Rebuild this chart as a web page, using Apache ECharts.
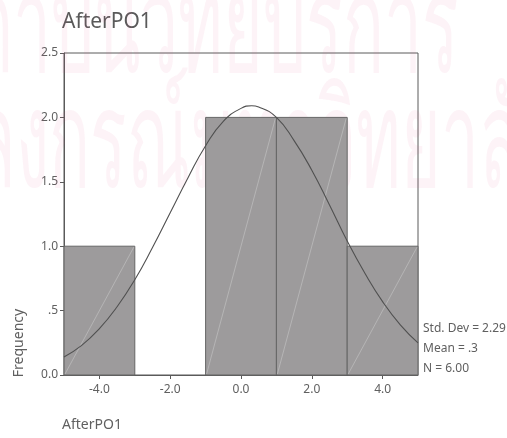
<!DOCTYPE html>
<html>
<head>
<meta charset="utf-8">
<script src="https://cdn.jsdelivr.net/npm/echarts@6/dist/echarts.min.js"></script>
<style>
html,body{margin:0;padding:0;background:#fff;}
#c{width:507px;height:438px;}
</style>
</head>
<body>
<div id="c"></div>
<script>
// Histogram bins: [lower edge, upper edge]
const binLower = [-5, -3, -1, 1, 3];
const binUpper = [-3, -1, 1, 3, 5];
const binCounts = [1, 0, 2, 2, 1];
// Fitted normal curve
const curveX = [-5, -4.5, -4, -3.5, -3, -2.5, -2, -1.5, -1, -0.5, 0, 0.3, 0.5, 1, 1.5, 2, 2.5, 3, 3.5, 4, 4.5, 5];
const curveY = [0.14, 0.23, 0.36, 0.53, 0.74, 0.99, 1.26, 1.53, 1.78, 1.97, 2.07, 2.09, 2.08, 2.0, 1.82, 1.59, 1.32, 1.04, 0.79, 0.57, 0.39, 0.25];
const xTickValues = [-4, -2, 0, 2, 4];
const yTicks = [0, 0.5, 1.0, 1.5, 2.0, 2.5];
const statsLines = ['Std. Dev = 2.29', 'Mean = .3', 'N = 6.00'];
const titleText = 'AfterPO1';
const xTitle = 'AfterPO1';
const yTitle = 'Frequency';
const watermark1 = 'สถาบันวิทยบริการ';
const watermark2 = 'จุฬาลงกรณ์มหาวิทยาลัย';

const FONT = '"Noto Sans", Tahoma, sans-serif';
const TXT = '#606060';
const WM = 'rgba(220,70,130,0.065)';

const barData = binLower.map((lo, i) => [lo, binUpper[i], binCounts[i]]).filter(d => d[2] > 0);
const curveData = curveX.map((x, i) => [x, curveY[i]]);

const chart = echarts.init(document.getElementById('c'), null, {renderer: 'canvas'});
chart.setOption({
  animation: false,
  backgroundColor: '#fff',
  grid: {left: 64, right: 89, top: 53, bottom: 63, show: true, borderColor: '#5a5a5a', borderWidth: 1, backgroundColor: 'transparent'},
  xAxis: {
    type: 'value', min: -5, max: 5,
    axisLine: {show: true, onZero: false, lineStyle: {color: '#5a5a5a'}},
    axisTick: {show: true, length: 4, customValues: xTickValues, lineStyle: {color: '#5a5a5a'}},
    axisLabel: {customValues: xTickValues, color: TXT, fontFamily: FONT, fontSize: 12, margin: 9,
      formatter: v => v.toFixed(1)},
    splitLine: {show: false}
  },
  yAxis: {
    type: 'value', min: 0, max: 2.5, interval: 0.5,
    axisLine: {show: true, onZero: false, lineStyle: {color: '#5a5a5a'}},
    axisTick: {show: true, length: 4, lineStyle: {color: '#5a5a5a'}},
    axisLabel: {color: TXT, fontFamily: FONT, fontSize: 12, margin: 6,
      formatter: v => (Math.abs(v - 0.5) < 1e-9 ? '.5' : v.toFixed(1))},
    splitLine: {show: false}
  },
  series: [
    {
      type: 'custom',
      data: barData,
      z: 2,
      renderItem: function (params, api) {
        const x0 = api.value(0), x1 = api.value(1), y = api.value(2);
        const p0 = api.coord([x0, 0]);
        const p1 = api.coord([x1, y]);
        return {
          type: 'group',
          children: [
            {type: 'rect', shape: {x: p0[0], y: p1[1], width: p1[0] - p0[0], height: p0[1] - p1[1]},
              style: {fill: 'rgba(152,150,151,0.95)', stroke: '#666', lineWidth: 1}},
            {type: 'line', shape: {x1: p0[0] + 1, y1: p0[1] - 1, x2: p1[0] - 1, y2: p1[1] + 1},
              style: {stroke: '#c6c6c6', lineWidth: 0.6}}
          ]
        };
      }
    },
    {
      type: 'line',
      data: curveData,
      smooth: true,
      showSymbol: false,
      z: 3,
      lineStyle: {color: '#505050', width: 1.1}
    }
  ],
  graphic: [
    {type: 'text', z: 1, x: -70, y: 34, scaleY: 2.0, silent: true,
      style: {text: watermark1, fill: WM, font: '68px sans-serif', verticalAlign: 'middle'}},
    {type: 'text', z: 1, x: -150, y: 149, scaleY: 2.0, silent: true,
      style: {text: watermark2, fill: WM, font: '68px sans-serif', verticalAlign: 'middle'}},
    {type: 'text', left: 62, top: 12,
      style: {text: titleText, fill: '#5a5a5a', font: '21px ' + FONT}},
    {type: 'text', left: 62, top: 418,
      style: {text: xTitle, fill: TXT, font: '14px ' + FONT}},
    {type: 'text', x: 19, y: 343, rotation: Math.PI / 2,
      style: {text: yTitle, fill: TXT, font: '14px ' + FONT, align: 'center', verticalAlign: 'middle'}},
    {type: 'text', left: 423, top: 319,
      style: {text: statsLines.join('\n'), fill: TXT, font: '12px ' + FONT, lineHeight: 20}}
  ]
});
</script>
</body>
</html>
